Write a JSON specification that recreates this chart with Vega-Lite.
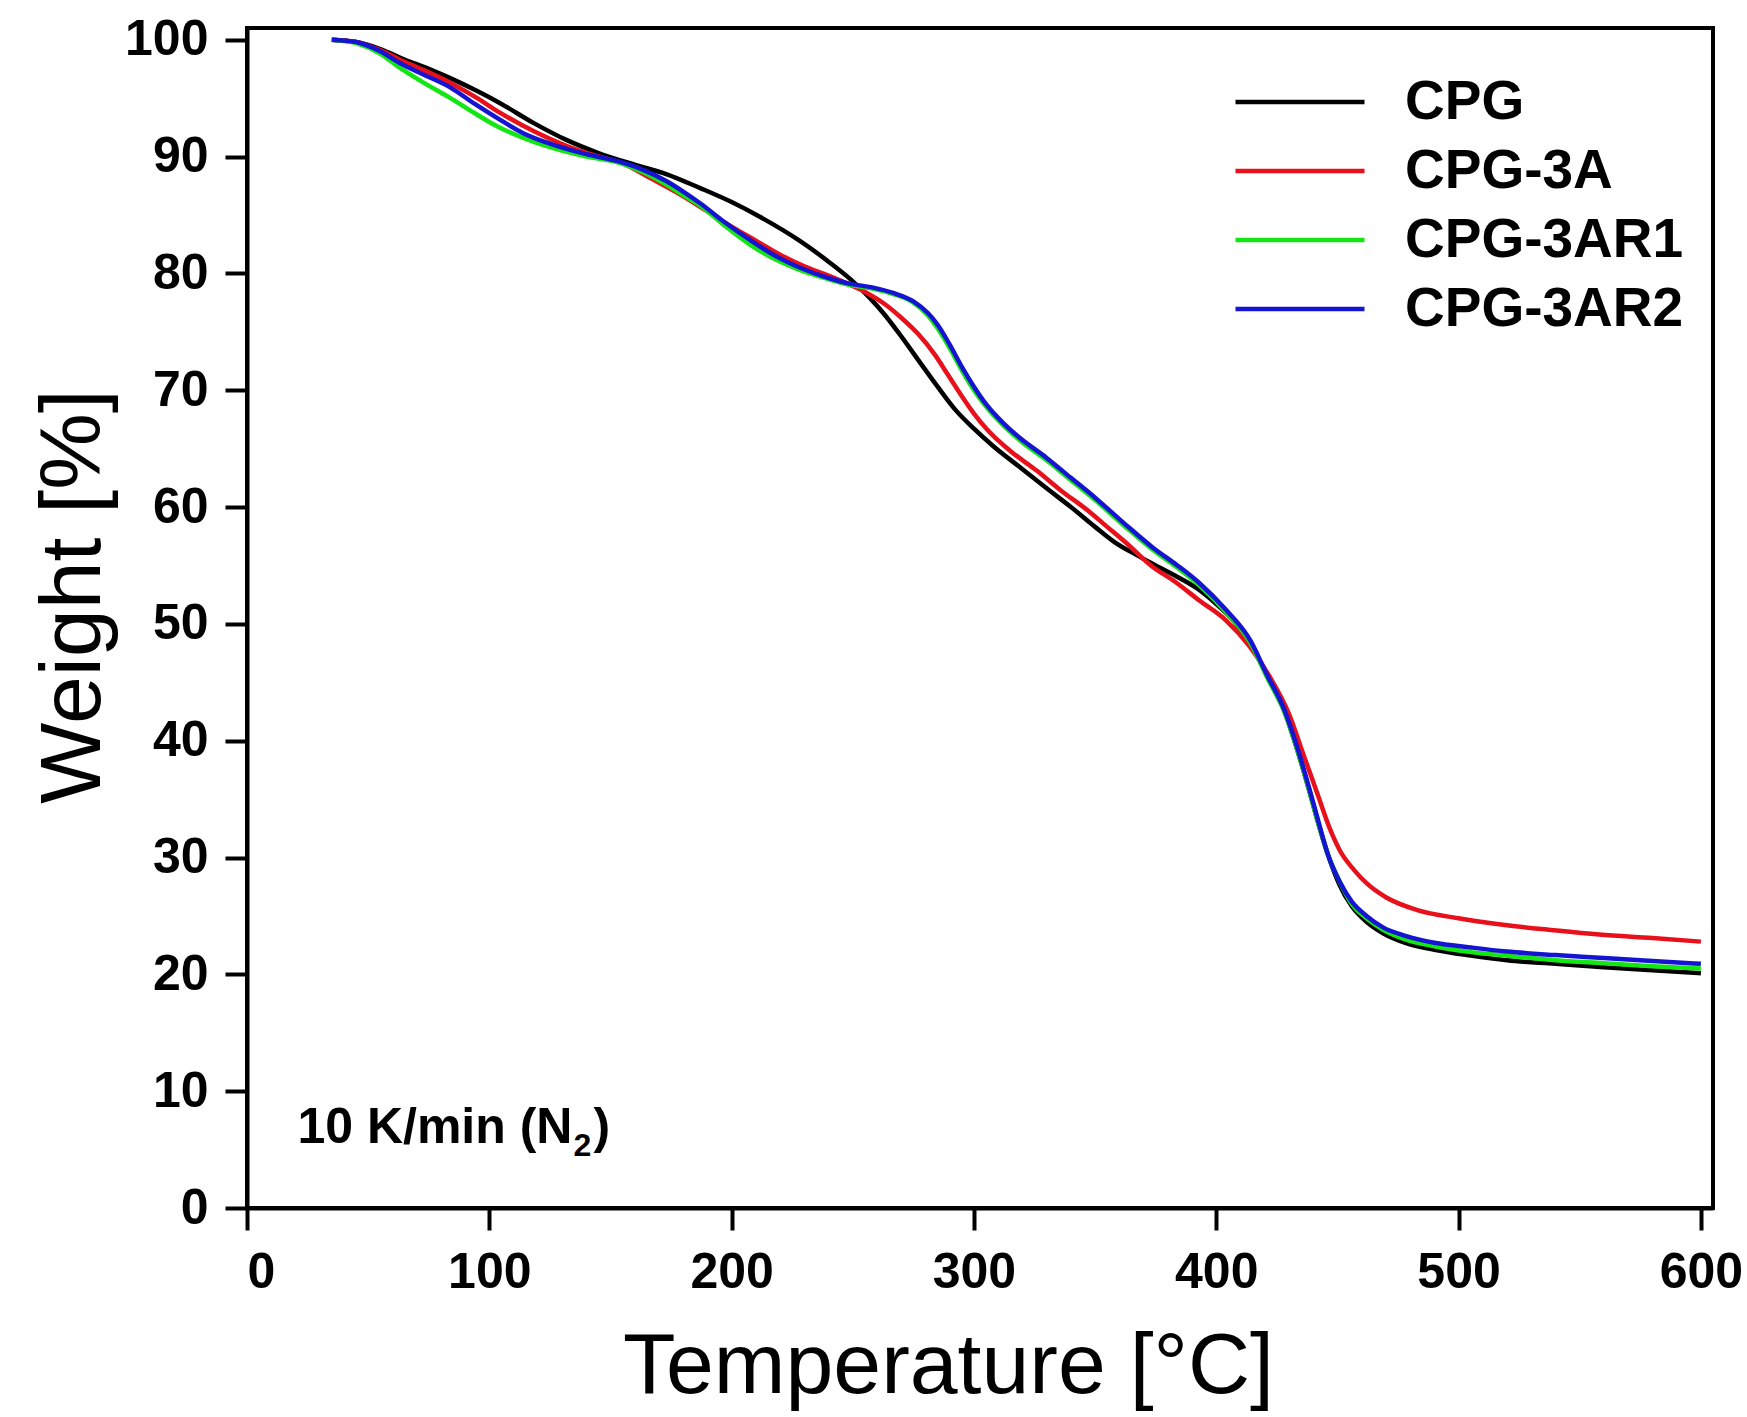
{
  "$schema": "https://vega.github.io/schema/vega-lite/v6.json",
  "width": 1466,
  "height": 1180,
  "autosize": {"type": "none"},
  "padding": {"left": 247, "top": 28, "right": 34, "bottom": 209},
  "background": "white",
  "config": {
    "view": {"stroke": "black", "strokeWidth": 4},
    "axis": {
      "domainColor": "black", "domainWidth": 4,
      "tickColor": "black", "tickWidth": 4, "tickSize": 22,
      "labelFont": "Liberation Sans", "labelFontWeight": "bold", "labelFontSize": 50, "labelColor": "black",
      "labelPadding": 17,
      "titleFont": "Liberation Sans", "titleFontWeight": "normal", "titleFontSize": 86, "titleColor": "black",
      "grid": false
    }
  },
  "datasets": {
    "tga": [
      {"sample":"CPG","T":35,"W":100},{"sample":"CPG","T":45,"W":99.8},{"sample":"CPG","T":55,"W":99.2},{"sample":"CPG","T":65,"W":98.3},{"sample":"CPG","T":75,"W":97.5},{"sample":"CPG","T":85,"W":96.6},{"sample":"CPG","T":95,"W":95.6},{"sample":"CPG","T":105,"W":94.5},{"sample":"CPG","T":118,"W":92.9},{"sample":"CPG","T":132,"W":91.4},{"sample":"CPG","T":145,"W":90.3},{"sample":"CPG","T":160,"W":89.3},{"sample":"CPG","T":173,"W":88.5},{"sample":"CPG","T":187,"W":87.3},{"sample":"CPG","T":200,"W":86.1},{"sample":"CPG","T":212,"W":84.8},{"sample":"CPG","T":228,"W":82.8},{"sample":"CPG","T":240,"W":81.0},{"sample":"CPG","T":249,"W":79.5},{"sample":"CPG","T":257,"W":77.9},{"sample":"CPG","T":263,"W":76.5},{"sample":"CPG","T":270,"W":74.6},{"sample":"CPG","T":278,"W":72.3},{"sample":"CPG","T":285,"W":70.3},{"sample":"CPG","T":292,"W":68.4},{"sample":"CPG","T":300,"W":66.7},{"sample":"CPG","T":308,"W":65.2},{"sample":"CPG","T":319,"W":63.4},{"sample":"CPG","T":330,"W":61.6},{"sample":"CPG","T":340,"W":60.0},{"sample":"CPG","T":350,"W":58.3},{"sample":"CPG","T":358,"W":57.0},{"sample":"CPG","T":367,"W":55.9},{"sample":"CPG","T":375,"W":55.0},{"sample":"CPG","T":385,"W":53.9},{"sample":"CPG","T":393,"W":52.9},{"sample":"CPG","T":400,"W":51.7},{"sample":"CPG","T":407,"W":50.3},{"sample":"CPG","T":414,"W":48.3},{"sample":"CPG","T":421,"W":45.6},{"sample":"CPG","T":428,"W":42.6},{"sample":"CPG","T":433,"W":39.5},{"sample":"CPG","T":438,"W":36.0},{"sample":"CPG","T":442,"W":33.0},{"sample":"CPG","T":446,"W":30.3},{"sample":"CPG","T":451,"W":27.6},{"sample":"CPG","T":456,"W":25.8},{"sample":"CPG","T":462,"W":24.5},{"sample":"CPG","T":469,"W":23.5},{"sample":"CPG","T":478,"W":22.7},{"sample":"CPG","T":490,"W":22.1},{"sample":"CPG","T":505,"W":21.6},{"sample":"CPG","T":520,"W":21.2},{"sample":"CPG","T":540,"W":20.9},{"sample":"CPG","T":560,"W":20.6},{"sample":"CPG","T":580,"W":20.35},{"sample":"CPG","T":600,"W":20.1},

      {"sample":"CPG-3A","T":35,"W":100},{"sample":"CPG-3A","T":45,"W":99.8},{"sample":"CPG-3A","T":55,"W":99.1},{"sample":"CPG-3A","T":65,"W":98.1},{"sample":"CPG-3A","T":75,"W":97.2},{"sample":"CPG-3A","T":84,"W":96.3},{"sample":"CPG-3A","T":95,"W":95.0},{"sample":"CPG-3A","T":104,"W":93.8},{"sample":"CPG-3A","T":118,"W":92.2},{"sample":"CPG-3A","T":132,"W":90.9},{"sample":"CPG-3A","T":145,"W":90.0},{"sample":"CPG-3A","T":155,"W":89.4},{"sample":"CPG-3A","T":166,"W":88.2},{"sample":"CPG-3A","T":180,"W":86.6},{"sample":"CPG-3A","T":190,"W":85.3},{"sample":"CPG-3A","T":200,"W":84.0},{"sample":"CPG-3A","T":210,"W":82.8},{"sample":"CPG-3A","T":220,"W":81.6},{"sample":"CPG-3A","T":230,"W":80.6},{"sample":"CPG-3A","T":240,"W":79.8},{"sample":"CPG-3A","T":249,"W":79.0},{"sample":"CPG-3A","T":256,"W":78.3},{"sample":"CPG-3A","T":263,"W":77.4},{"sample":"CPG-3A","T":270,"W":76.2},{"sample":"CPG-3A","T":277,"W":74.8},{"sample":"CPG-3A","T":284,"W":73.0},{"sample":"CPG-3A","T":289,"W":71.4},{"sample":"CPG-3A","T":294,"W":69.8},{"sample":"CPG-3A","T":300,"W":68.0},{"sample":"CPG-3A","T":306,"W":66.5},{"sample":"CPG-3A","T":315,"W":64.8},{"sample":"CPG-3A","T":326,"W":63.1},{"sample":"CPG-3A","T":336,"W":61.4},{"sample":"CPG-3A","T":347,"W":59.7},{"sample":"CPG-3A","T":355,"W":58.3},{"sample":"CPG-3A","T":363,"W":56.9},{"sample":"CPG-3A","T":373,"W":55.0},{"sample":"CPG-3A","T":383,"W":53.6},{"sample":"CPG-3A","T":393,"W":52.0},{"sample":"CPG-3A","T":404,"W":50.3},{"sample":"CPG-3A","T":414,"W":48.0},{"sample":"CPG-3A","T":422,"W":45.5},{"sample":"CPG-3A","T":430,"W":42.3},{"sample":"CPG-3A","T":436,"W":38.8},{"sample":"CPG-3A","T":442,"W":35.3},{"sample":"CPG-3A","T":447,"W":32.4},{"sample":"CPG-3A","T":451,"W":30.6},{"sample":"CPG-3A","T":457,"W":28.9},{"sample":"CPG-3A","T":462,"W":27.8},{"sample":"CPG-3A","T":470,"W":26.6},{"sample":"CPG-3A","T":483,"W":25.5},{"sample":"CPG-3A","T":500,"W":24.8},{"sample":"CPG-3A","T":520,"W":24.2},{"sample":"CPG-3A","T":538,"W":23.8},{"sample":"CPG-3A","T":558,"W":23.4},{"sample":"CPG-3A","T":580,"W":23.1},{"sample":"CPG-3A","T":600,"W":22.8},

      {"sample":"CPG-3AR1","T":35,"W":100},{"sample":"CPG-3AR1","T":45,"W":99.7},{"sample":"CPG-3AR1","T":55,"W":98.8},{"sample":"CPG-3AR1","T":63,"W":97.6},{"sample":"CPG-3AR1","T":73,"W":96.3},{"sample":"CPG-3AR1","T":84,"W":95.0},{"sample":"CPG-3AR1","T":94,"W":93.7},{"sample":"CPG-3AR1","T":104,"W":92.5},{"sample":"CPG-3AR1","T":114,"W":91.6},{"sample":"CPG-3AR1","T":125,"W":90.8},{"sample":"CPG-3AR1","T":140,"W":90.0},{"sample":"CPG-3AR1","T":153,"W":89.5},{"sample":"CPG-3AR1","T":163,"W":88.7},{"sample":"CPG-3AR1","T":173,"W":87.6},{"sample":"CPG-3AR1","T":180,"W":86.7},{"sample":"CPG-3AR1","T":187,"W":85.8},{"sample":"CPG-3AR1","T":197,"W":84.1},{"sample":"CPG-3AR1","T":208,"W":82.4},{"sample":"CPG-3AR1","T":218,"W":81.2},{"sample":"CPG-3AR1","T":228,"W":80.3},{"sample":"CPG-3AR1","T":240,"W":79.5},{"sample":"CPG-3AR1","T":249,"W":79.0},{"sample":"CPG-3AR1","T":258,"W":78.7},{"sample":"CPG-3AR1","T":267,"W":78.2},{"sample":"CPG-3AR1","T":275,"W":77.5},{"sample":"CPG-3AR1","T":281,"W":76.4},{"sample":"CPG-3AR1","T":285,"W":75.3},{"sample":"CPG-3AR1","T":290,"W":73.6},{"sample":"CPG-3AR1","T":295,"W":71.7},{"sample":"CPG-3AR1","T":300,"W":70.0},{"sample":"CPG-3AR1","T":305,"W":68.6},{"sample":"CPG-3AR1","T":312,"W":67.0},{"sample":"CPG-3AR1","T":319,"W":65.7},{"sample":"CPG-3AR1","T":330,"W":64.0},{"sample":"CPG-3AR1","T":340,"W":62.3},{"sample":"CPG-3AR1","T":350,"W":60.6},{"sample":"CPG-3AR1","T":362,"W":58.4},{"sample":"CPG-3AR1","T":374,"W":56.3},{"sample":"CPG-3AR1","T":384,"W":54.8},{"sample":"CPG-3AR1","T":393,"W":53.3},{"sample":"CPG-3AR1","T":404,"W":51.0},{"sample":"CPG-3AR1","T":414,"W":48.4},{"sample":"CPG-3AR1","T":421,"W":45.4},{"sample":"CPG-3AR1","T":428,"W":42.5},{"sample":"CPG-3AR1","T":433,"W":39.5},{"sample":"CPG-3AR1","T":438,"W":36.0},{"sample":"CPG-3AR1","T":442,"W":33.0},{"sample":"CPG-3AR1","T":446,"W":30.3},{"sample":"CPG-3AR1","T":451,"W":27.9},{"sample":"CPG-3AR1","T":456,"W":26.0},{"sample":"CPG-3AR1","T":462,"W":24.8},{"sample":"CPG-3AR1","T":469,"W":23.8},{"sample":"CPG-3AR1","T":478,"W":23.0},{"sample":"CPG-3AR1","T":490,"W":22.4},{"sample":"CPG-3AR1","T":505,"W":21.9},{"sample":"CPG-3AR1","T":520,"W":21.6},{"sample":"CPG-3AR1","T":540,"W":21.2},{"sample":"CPG-3AR1","T":560,"W":20.95},{"sample":"CPG-3AR1","T":580,"W":20.7},{"sample":"CPG-3AR1","T":600,"W":20.5},

      {"sample":"CPG-3AR2","T":35,"W":100},{"sample":"CPG-3AR2","T":45,"W":99.8},{"sample":"CPG-3AR2","T":55,"W":99.0},{"sample":"CPG-3AR2","T":63,"W":98.0},{"sample":"CPG-3AR2","T":73,"W":97.0},{"sample":"CPG-3AR2","T":84,"W":95.9},{"sample":"CPG-3AR2","T":94,"W":94.5},{"sample":"CPG-3AR2","T":104,"W":93.2},{"sample":"CPG-3AR2","T":114,"W":92.0},{"sample":"CPG-3AR2","T":125,"W":91.1},{"sample":"CPG-3AR2","T":140,"W":90.2},{"sample":"CPG-3AR2","T":153,"W":89.6},{"sample":"CPG-3AR2","T":163,"W":88.9},{"sample":"CPG-3AR2","T":173,"W":87.9},{"sample":"CPG-3AR2","T":180,"W":87.0},{"sample":"CPG-3AR2","T":187,"W":86.0},{"sample":"CPG-3AR2","T":197,"W":84.4},{"sample":"CPG-3AR2","T":208,"W":82.8},{"sample":"CPG-3AR2","T":218,"W":81.5},{"sample":"CPG-3AR2","T":228,"W":80.5},{"sample":"CPG-3AR2","T":240,"W":79.6},{"sample":"CPG-3AR2","T":249,"W":79.1},{"sample":"CPG-3AR2","T":258,"W":78.8},{"sample":"CPG-3AR2","T":267,"W":78.3},{"sample":"CPG-3AR2","T":275,"W":77.6},{"sample":"CPG-3AR2","T":281,"W":76.6},{"sample":"CPG-3AR2","T":285,"W":75.6},{"sample":"CPG-3AR2","T":290,"W":73.9},{"sample":"CPG-3AR2","T":295,"W":72.0},{"sample":"CPG-3AR2","T":300,"W":70.3},{"sample":"CPG-3AR2","T":305,"W":68.8},{"sample":"CPG-3AR2","T":312,"W":67.2},{"sample":"CPG-3AR2","T":319,"W":65.9},{"sample":"CPG-3AR2","T":330,"W":64.2},{"sample":"CPG-3AR2","T":340,"W":62.5},{"sample":"CPG-3AR2","T":350,"W":60.8},{"sample":"CPG-3AR2","T":362,"W":58.6},{"sample":"CPG-3AR2","T":374,"W":56.5},{"sample":"CPG-3AR2","T":384,"W":55.0},{"sample":"CPG-3AR2","T":393,"W":53.5},{"sample":"CPG-3AR2","T":404,"W":51.2},{"sample":"CPG-3AR2","T":414,"W":48.6},{"sample":"CPG-3AR2","T":421,"W":45.6},{"sample":"CPG-3AR2","T":428,"W":42.7},{"sample":"CPG-3AR2","T":433,"W":39.7},{"sample":"CPG-3AR2","T":438,"W":36.2},{"sample":"CPG-3AR2","T":442,"W":33.2},{"sample":"CPG-3AR2","T":446,"W":30.3},{"sample":"CPG-3AR2","T":451,"W":27.9},{"sample":"CPG-3AR2","T":456,"W":26.2},{"sample":"CPG-3AR2","T":462,"W":25.0},{"sample":"CPG-3AR2","T":469,"W":24.0},{"sample":"CPG-3AR2","T":478,"W":23.3},{"sample":"CPG-3AR2","T":490,"W":22.7},{"sample":"CPG-3AR2","T":505,"W":22.3},{"sample":"CPG-3AR2","T":520,"W":21.95},{"sample":"CPG-3AR2","T":540,"W":21.65},{"sample":"CPG-3AR2","T":560,"W":21.4},{"sample":"CPG-3AR2","T":580,"W":21.15},{"sample":"CPG-3AR2","T":600,"W":20.9}
    ]
  },
  "layer": [
    {
      "data": {"name": "tga"},
      "mark": {"type": "line", "strokeWidth": 4.5, "interpolate": "monotone", "clip": true},
      "encoding": {
        "x": {"field": "T", "type": "quantitative",
              "scale": {"domain": [0, 605], "nice": false, "zero": false},
              "axis": {"title": "Temperature [°C]", "values": [0,100,200,300,400,500,600],
                       "titleX": 701, "titleAlign": "center", "titleY": 184, "titleBaseline": "alphabetic"}},
        "y": {"field": "W", "type": "quantitative",
              "scale": {"domain": [0, 101], "nice": false},
              "axis": {"title": "Weight [%]", "values": [0,10,20,30,40,50,60,70,80,90,100],
                       "titleX": -148, "titleY": 568, "titleAlign": "center", "titleBaseline": "alphabetic", "titleAngle": -90}},
        "color": {"field": "sample", "type": "nominal",
                  "scale": {"domain": ["CPG","CPG-3A","CPG-3AR1","CPG-3AR2"], "range": ["#000000","#e8101a","#14e614","#1414d2"]},
                  "legend": {"title": null, "orient": "none", "legendX": 986, "legendY": 49,
                             "symbolType": "stroke", "symbolSize": 16641, "symbolStrokeWidth": 4.5,
                             "labelFont": "Liberation Sans", "labelFontWeight": "bold", "labelFontSize": 55, "labelColor": "black",
                             "labelOffset": 38, "labelLimit": 600, "clipHeight": 50, "rowPadding": 14, "padding": 0}}
      }
    },
    {
      "data": {"values": [{}]},
      "mark": {"type": "text", "text": "10 K/min (N", "font": "Liberation Sans", "fontWeight": "bold", "fontSize": 50, "align": "left", "baseline": "alphabetic", "color": "black"},
      "encoding": {"x": {"datum": 20.8, "type": "quantitative"}, "y": {"datum": 5.6, "type": "quantitative"}}
    },
    {
      "data": {"values": [{}]},
      "mark": {"type": "text", "text": "2", "font": "Liberation Sans", "fontWeight": "bold", "fontSize": 32, "align": "left", "baseline": "alphabetic", "dx": 276, "dy": 13, "color": "black"},
      "encoding": {"x": {"datum": 20.8, "type": "quantitative"}, "y": {"datum": 5.6, "type": "quantitative"}}
    },
    {
      "data": {"values": [{}]},
      "mark": {"type": "text", "text": ")", "font": "Liberation Sans", "fontWeight": "bold", "fontSize": 50, "align": "left", "baseline": "alphabetic", "dx": 296, "color": "black"},
      "encoding": {"x": {"datum": 20.8, "type": "quantitative"}, "y": {"datum": 5.6, "type": "quantitative"}}
    }
  ]
}
